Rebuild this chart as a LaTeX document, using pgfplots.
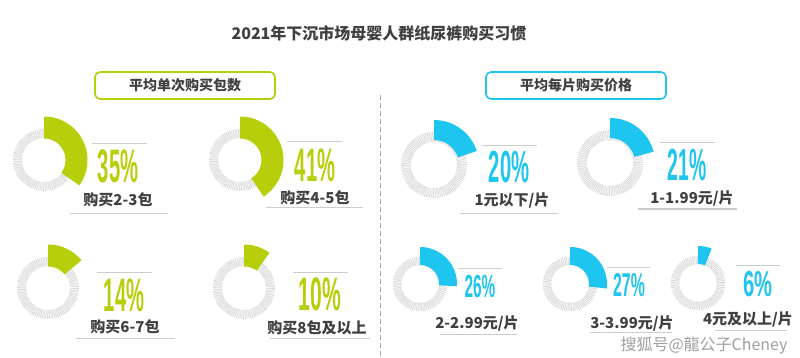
\documentclass[border=0pt]{standalone}
\usepackage{graphicx}
\usepackage{pgfplots}
\pgfplotsset{compat=1.18}
\usepackage{fontspec}
\setmainfont{Noto Sans CJK SC}
\newfontfamily\numfont{Liberation Sans}
\definecolor{cgreen}{RGB}{183,206,10}
\definecolor{ccyan}{RGB}{30,197,238}
\definecolor{ctext}{RGB}{64,64,64}
\definecolor{cline}{RGB}{205,205,205}
\definecolor{cring}{RGB}{218,218,218}
% #1 cx, #2 cy, #3 value (%), #4 colour, #5 grey mid radius, #6 grey width, #7 colour mid radius, #8 colour width
\newcommand{\donut}[8]{%
  \addplot[draw=cring, line width=#6pt, dash pattern=on 0.8pt off 0.8pt, domain=0:360, samples=120, variable=\t, no marks]
    ({#1+#5*sin(t)},{#2-#5*cos(t)});
  \addplot[draw=#4, line width=#8pt, domain=0:3.6*#3, samples=60, variable=\t, no marks]
    ({#1+#7*sin(t)},{#2-#7*cos(t)});
}
\newcommand{\bignum}[3]{\scalebox{#2}[1]{\numfont\fontsize{#3}{#3}\selectfont #1}}
\begin{document}
\begin{tikzpicture}
\begin{axis}[width=800pt,height=358pt,scale only axis,xmin=0,xmax=800,ymin=0,ymax=358,
  y dir=reverse,hide axis,clip=false]
% donuts
\donut{44}{160}{35}{cgreen}{26.5}{9}{32.5}{22}
\donut{240}{160}{41}{cgreen}{26.5}{9}{32.5}{22}
\donut{48}{288}{14}{cgreen}{26.5}{9}{32.5}{22}
\donut{244}{288}{10}{cgreen}{26.5}{9}{32.5}{22}
\donut{434}{165}{20}{ccyan}{28}{10}{35}{20}
\donut{610}{163}{21}{ccyan}{28}{10}{35}{20}
\donut{420}{284}{26}{ccyan}{23}{8.5}{28}{18}
\donut{570}{284}{27}{ccyan}{23}{8.5}{28}{18}
\donut{698}{283}{6}{ccyan}{23}{8.5}{28}{18}
% title and headers
\node[font=\fontsize{16}{16}\selectfont\bfseries, text=ctext] at (axis cs:379,33) {2021年下沉市场母婴人群纸尿裤购买习惯};
\node[draw=cgreen, line width=1.6pt, rounded corners=5pt, minimum width=180pt, minimum height=27pt,
  font=\fontsize{14}{14}\selectfont\bfseries, text=ctext, inner sep=0pt] at (axis cs:185,85.5) {平均单次购买包数};
\node[draw=ccyan, line width=1.6pt, rounded corners=5pt, minimum width=180pt, minimum height=27pt,
  font=\fontsize{14}{14}\selectfont\bfseries, text=ctext, inner sep=0pt] at (axis cs:576,85.5) {平均每片购买价格};
\draw[gray!65, line width=1pt, dash pattern=on 5pt off 3pt] (axis cs:380,95) -- (axis cs:380,358);
% separators
\draw[cline, line width=1pt] (axis cs:92,144) -- (axis cs:147,144);
\draw[cline, line width=1pt] (axis cs:70,213) -- (axis cs:168,213);
\draw[cline, line width=1pt] (axis cs:287,142) -- (axis cs:342,142);
\draw[cline, line width=1pt] (axis cs:266,208) -- (axis cs:363,208);
\draw[cline, line width=1pt] (axis cs:97,272) -- (axis cs:152,272);
\draw[cline, line width=1pt] (axis cs:76,338) -- (axis cs:175,338);
\draw[cline, line width=1pt] (axis cs:293,272) -- (axis cs:348,272);
\draw[cline, line width=1pt] (axis cs:270,338) -- (axis cs:370,338);
\draw[cline, line width=1pt] (axis cs:482,146) -- (axis cs:537,146);
\draw[cline, line width=1pt] (axis cs:460,213) -- (axis cs:558,213);
\draw[cline, line width=1pt] (axis cs:660,143) -- (axis cs:715,143);
\draw[cline, line width=1pt] (axis cs:638,209) -- (axis cs:737,209);
\draw[cline, line width=1pt] (axis cs:458,268) -- (axis cs:502,268);
\draw[cline, line width=1pt] (axis cs:440,334) -- (axis cs:517,334);
\draw[cline, line width=1pt] (axis cs:607,267) -- (axis cs:650,267);
\draw[cline, line width=1pt] (axis cs:590,332) -- (axis cs:672,332);
\draw[cline, line width=1pt] (axis cs:736,265) -- (axis cs:780,265);
\draw[cline, line width=1pt] (axis cs:715,330) -- (axis cs:787,330);
% numbers
\node[text=cgreen, inner sep=0pt] at (axis cs:118,166) {\bignum{\bfseries 35\%}{0.43}{47}};
\node[text=cgreen, inner sep=0pt] at (axis cs:315,165) {\bignum{\bfseries 41\%}{0.43}{47}};
\node[text=cgreen, inner sep=0pt] at (axis cs:124,295) {\bignum{\bfseries 14\%}{0.43}{47}};
\node[text=cgreen, inner sep=0pt] at (axis cs:320,294) {\bignum{\bfseries 10\%}{0.45}{47}};
\node[text=ccyan, inner sep=0pt] at (axis cs:509,167) {\bignum{\bfseries 20\%}{0.45}{45}};
\node[text=ccyan, inner sep=0pt] at (axis cs:687,165) {\bignum{\bfseries 21\%}{0.43}{45}};
\node[text=ccyan, inner sep=0pt] at (axis cs:480,286) {\bignum{\bfseries 26\%}{0.48}{32}};
\node[text=ccyan, inner sep=0pt] at (axis cs:629,285) {\bignum{\bfseries 27\%}{0.48}{33}};
\node[text=ccyan, inner sep=0pt] at (axis cs:758,284) {\bignum{\bfseries 6\%}{0.56}{36}};
% labels
\tikzset{lab/.style={font=\fontsize{15}{15}\selectfont\bfseries, text=ctext, inner sep=0pt}}
\node[lab] at (axis cs:118,200) {购买2-3包};
\node[lab] at (axis cs:315,198) {购买4-5包};
\node[lab] at (axis cs:125,327) {购买6-7包};
\node[lab] at (axis cs:317,328) {购买8包及以上};
\node[lab] at (axis cs:512,200) {1元以下/片};
\node[lab] at (axis cs:692,198) {1-1.99元/片};
\node[lab] at (axis cs:477,323) {2-2.99元/片};
\node[lab] at (axis cs:632,323) {3-3.99元/片};
\node[lab] at (axis cs:748,319) {4元及以上/片};
\node[font=\fontsize{16}{16}\selectfont, text=gray!75, inner sep=0pt] at (axis cs:704,346) {搜狐号@龍公子Cheney};
\end{axis}
\pgfresetboundingbox
\path (current axis.south west) rectangle (current axis.north east);
\end{tikzpicture}
\end{document}
